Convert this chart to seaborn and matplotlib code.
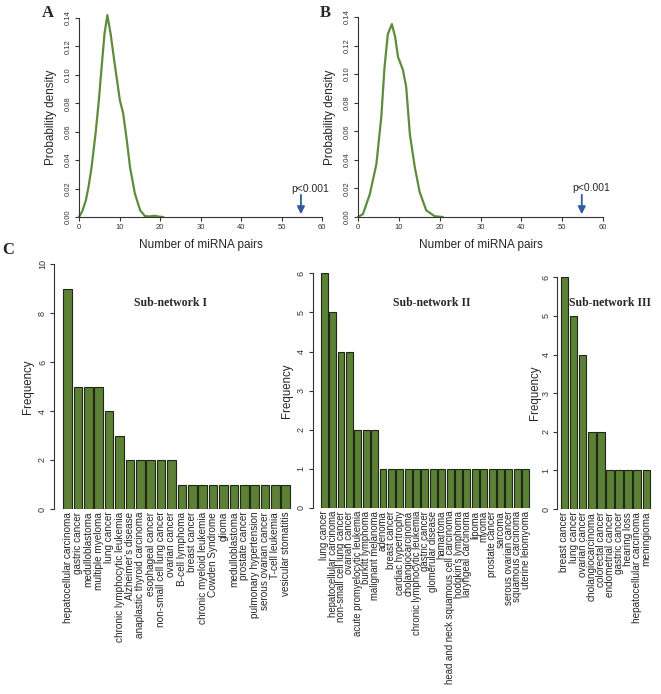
import numpy as np
import pandas as pd
import matplotlib
matplotlib.use("Agg")
import matplotlib.pyplot as plt
import seaborn as sns

# ------- data -------
# panel A: null distribution of miRNA pairs (density curve)
a_x = [0, 0.8, 1.7, 2.4, 3.1, 4.1, 4.9, 5.6, 6.3, 7.0, 7.8, 8.9, 10.1, 10.9, 11.8, 12.6, 13.8, 15.1, 16.3, 17.5, 18.6, 19.6, 20.8]
a_y = [0, 0.004, 0.0118, 0.022, 0.035, 0.059, 0.082, 0.106, 0.129, 0.142, 0.129, 0.106, 0.082, 0.073, 0.054, 0.035, 0.0165, 0.0047, 0.0006, 0.0004, 0.0009, 0.0003, 0]

# panel B
b_x = [0, 1.2, 2.9, 4.5, 5.7, 6.5, 7.3, 8.3, 9.1, 9.8, 11.0, 11.8, 12.7, 13.9, 15.1, 16.7, 18.8, 20.8]
b_y = [0, 0.002, 0.016, 0.037, 0.070, 0.105, 0.128, 0.135, 0.126, 0.112, 0.103, 0.091, 0.058, 0.035, 0.0175, 0.0047, 0.0005, 0]

observed = 54.8   # observed number of miRNA pairs (arrow)

# panel C: disease frequencies per sub-network
sub1_names = ["hepatocellular carcinoma", "gastric cancer", "medulloblastoma", "multiple myeloma",
              "lung cancer", "chronic lymphocytic leukemia", "Alzheimer's disease",
              "anaplastic thyroid carcinoma", "esophageal cancer", "non-small cell lung cancer",
              "ovarian cancer", "B-cell lymphoma", "breast cancer", "chronic myeloid leukemia",
              "Cowden Syndrome", "glioma", "medulloblastoma", "prostate cancer",
              "pulmonary hypertension", "serous ovarian cancer", "T-cell leukemia",
              "vesicular stomatitis"]
sub1_freq = [9, 5, 5, 5, 4, 3, 2, 2, 2, 2, 2, 1, 1, 1, 1, 1, 1, 1, 1, 1, 1, 1]

sub2_names = ["lung cancer", "hepatocellular carcinoma", "non-small cell lung cancer", "ovarian cancer",
              "acute promyelocytic leukemia", "burkitt lymphoma", "malignant melanoma", "adenoma",
              "breast cancer", "cardiac hypertrophy", "cholangiocarcinoma",
              "chronic lymphocytic leukemia", "gastric cancer", "glomerular disease", "hamartoma",
              "head and neck squamous cell carcinoma", "hodgkin's lymphoma", "laryngeal carcinoma",
              "lipoma", "myoma", "prostate cancer", "sarcoma", "serous ovarian cancer",
              "squamous carcinoma", "uterine leiomyoma"]
sub2_freq = [6, 5, 4, 4, 2, 2, 2, 1, 1, 1, 1, 1, 1, 1, 1, 1, 1, 1, 1, 1, 1, 1, 1, 1, 1]

sub3_names = ["breast cancer", "lung cancer", "ovarian cancer", "cholangiocarcinoma",
              "colorectal cancer", "endometrial cancer", "gastric cancer", "hearing loss",
              "hepatocellular carcinoma", "meningioma"]
sub3_freq = [6, 5, 4, 2, 2, 1, 1, 1, 1, 1]

# ------- style -------
sns.set_theme(style="ticks")
plt.rcParams["font.family"] = ["Liberation Sans", "DejaVu Sans"]
plt.rcParams["axes.linewidth"] = 0.8
plt.rcParams["axes.edgecolor"] = "#333333"

line_col = "#5E8C3C"
bar_col  = "#5C8036"
edge_col = "#1E2814"
arrow_col = "#2F5A9C"

W, H = 661, 694
fig = plt.figure(figsize=(W / 100, H / 100), dpi=100)


def px_axes(left, top, right, bottom):
    return fig.add_axes([left / W, 1 - bottom / H, (right - left) / W, (bottom - top) / H])


def px_text(x, y, s, **kw):
    fig.text(x / W, 1 - y / H, s, ha="center", va="center", **kw)


# ------- density panels -------
def density_panel(ax, xs, ys):
    sns.lineplot(x=xs, y=ys, ax=ax, color=line_col, lw=1.6, clip_on=False)
    ax.set_xlim(0, 60)
    ax.set_ylim(0, 0.14)
    ax.set_xticks(range(0, 61, 10))
    ax.set_yticks(np.arange(0, 0.141, 0.02))
    ax.set_yticklabels([f"{v:.2f}" for v in np.arange(0, 0.141, 0.02)])
    sns.despine(ax=ax)
    ax.tick_params(axis="both", labelsize=5.5, length=3, width=0.8, pad=2, colors="#333333")
    ax.tick_params(axis="y", labelrotation=90)
    for lab in ax.get_yticklabels():
        lab.set_va("center")
    ax.set_xlabel("Number of miRNA pairs", fontsize=8.5, labelpad=6)
    ax.set_ylabel("Probability density", fontsize=8.5, labelpad=6)
    ax.annotate("", xy=(observed, 0), xytext=(observed, 0.0175),
                arrowprops=dict(arrowstyle="-|>", color=arrow_col, lw=1.3, mutation_scale=11))
    ax.text(observed + 2.4, 0.020, "p<0.001", fontsize=7.5, ha="center", va="center")


axA = px_axes(79, 18, 322, 217)
density_panel(axA, a_x, a_y)
axB = px_axes(358, 17, 603, 217)
density_panel(axB, b_x, b_y)


# ------- bar panels -------
def bar_panel(ax, names, freq, ytop, xlo, xhi, title, tx, ty, lpad, fs):
    df = pd.DataFrame({"pos": np.arange(len(names)), "freq": freq})
    sns.barplot(data=df, x="pos", y="freq", ax=ax, color=bar_col, edgecolor=edge_col,
                linewidth=0.8, width=0.83, saturation=1)
    ax.set_xlim(xlo, xhi)
    ax.set_ylim(0, ytop)
    ax.set_xticks(range(len(names)))
    ax.set_xticklabels(names, rotation=90, fontsize=fs, va="top", ha="center")
    ax.tick_params(axis="x", length=0, pad=2)
    ax.set_yticks(range(0, ytop + 1, 2 if ytop > 6 else 1))
    ax.tick_params(axis="y", labelsize=6.5, length=3, width=0.8, pad=2, labelrotation=90,
                   colors="#333333")
    for lab in ax.get_yticklabels():
        lab.set_va("center")
    sns.despine(ax=ax, bottom=True)
    ax.spines["left"].set_bounds(0, ytop)
    ax.set_xlabel("")
    ax.set_ylabel("Frequency", fontsize=8.3, labelpad=lpad)
    px_text(tx, ty, title, family=["Liberation Serif", "DejaVu Serif"], fontweight="bold",
            fontsize=8.5)


ax1 = px_axes(54, 264, 292, 509)
bar_panel(ax1, sub1_names, sub1_freq, 10, -1.31, 21.6, "Sub-network I", 171, 303, 3, 7.2)
ax2 = px_axes(312.7, 273.3, 530.8, 508)
bar_panel(ax2, sub2_names, sub2_freq, 6, -1.37, 24.6, "Sub-network II", 432, 303, 3, 6.9)
ax3 = px_axes(557.3, 277.3, 651.8, 509)
bar_panel(ax3, sub3_names, sub3_freq, 6, -0.79, 9.6, "Sub-network III", 610, 303, 0, 7.2)

# panel letters
for letter, x, y in [("A", 48, 13), ("B", 325, 13), ("C", 8, 250)]:
    px_text(x, y, letter, family=["Liberation Serif", "DejaVu Serif"], fontweight="bold",
            fontsize=12)

fig.savefig("out.png", dpi=100)
